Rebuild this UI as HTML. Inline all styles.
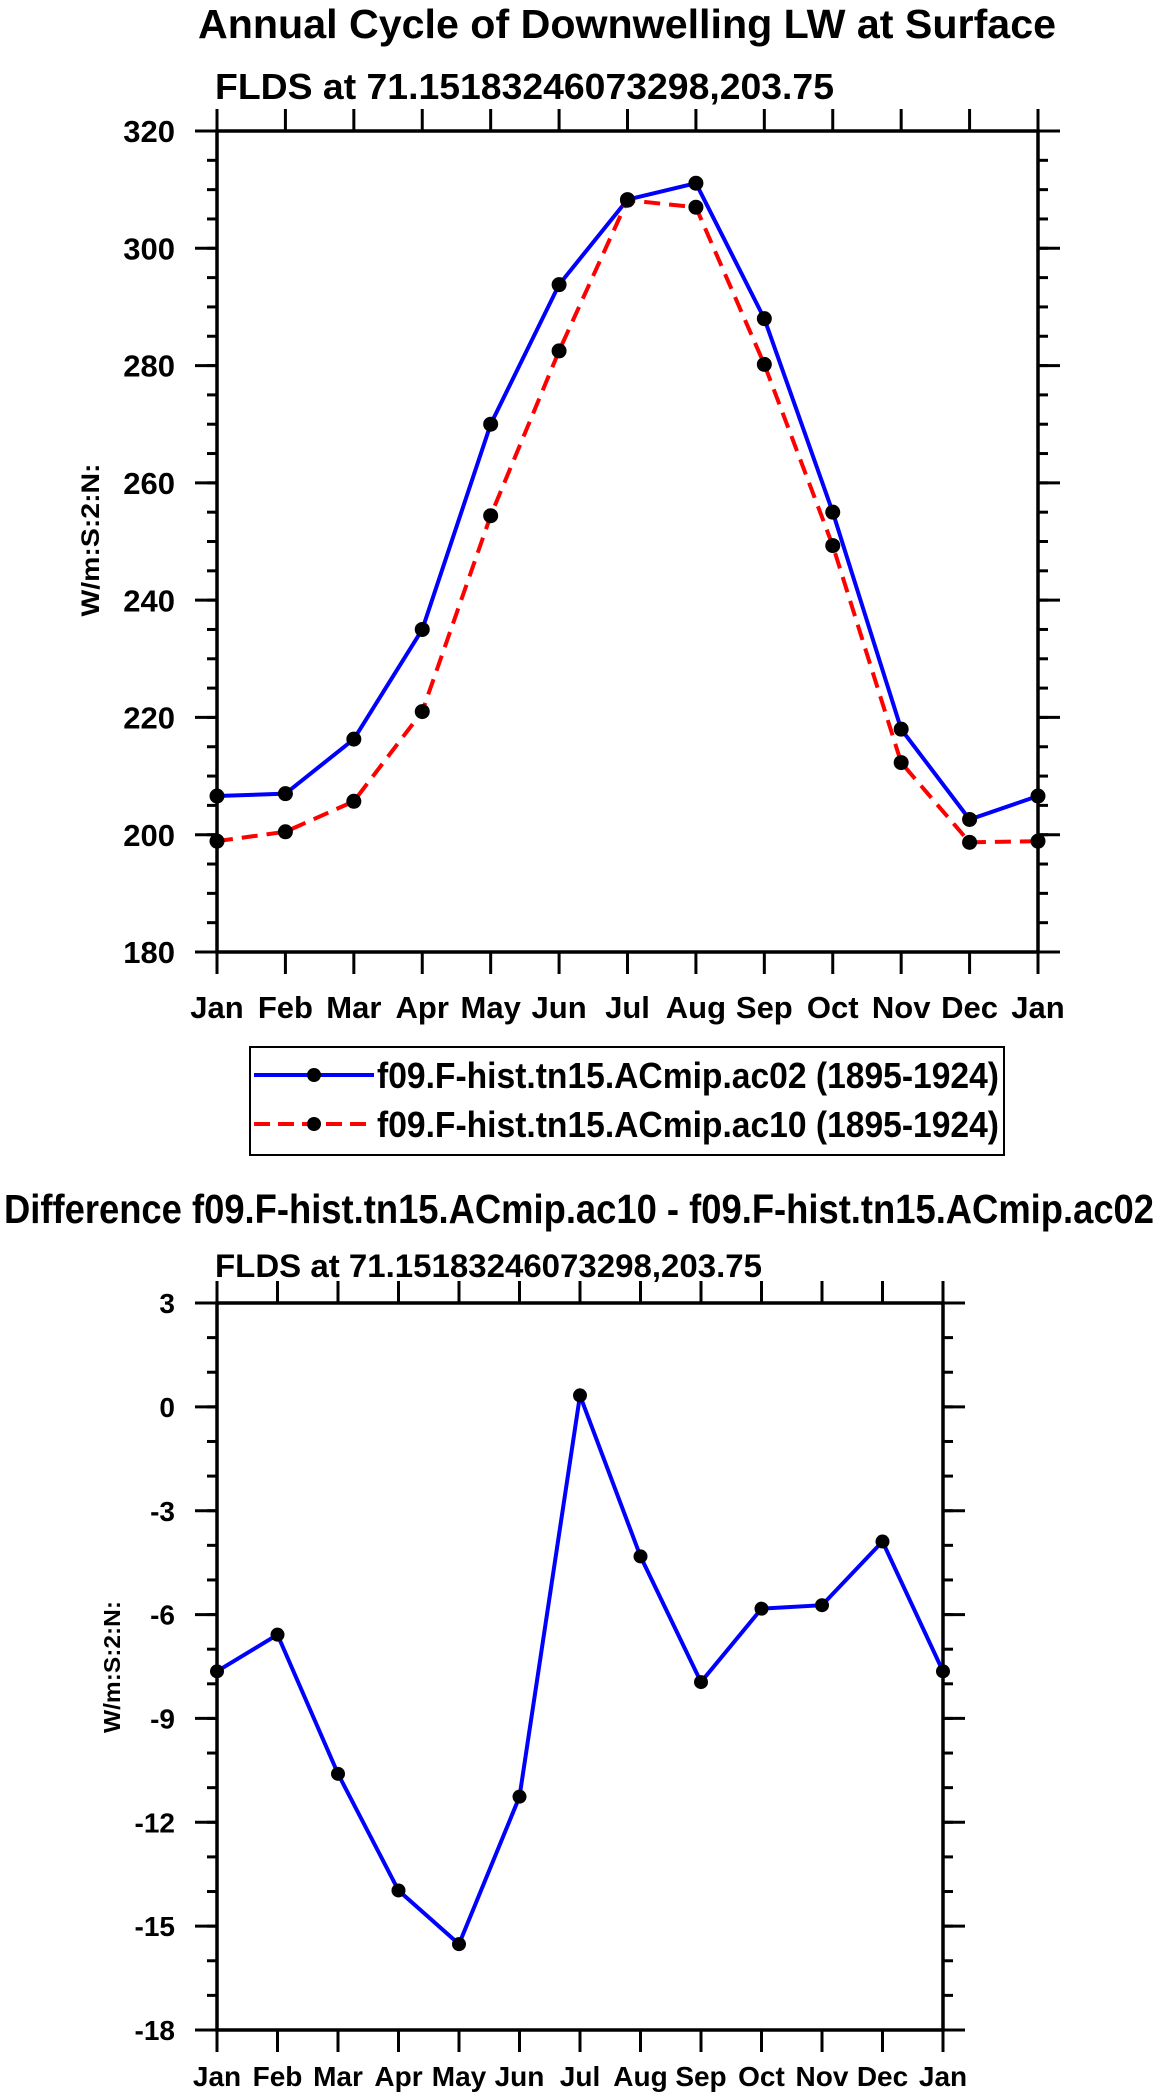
<!DOCTYPE html>
<html><head><meta charset="utf-8"><style>
html,body{margin:0;padding:0;background:#fff;}
svg{display:block;font-family:"Liberation Sans",Arial,sans-serif;font-weight:bold;}
</style></head><body>
<svg id="fig" width="1161" height="2096" viewBox="0 0 1161 2096" xmlns="http://www.w3.org/2000/svg">
<text x="627" y="38" text-anchor="middle" font-size="41" textLength="858" lengthAdjust="spacingAndGlyphs">Annual Cycle of Downwelling LW at Surface</text>
<text x="215" y="99" font-size="36" textLength="619" lengthAdjust="spacingAndGlyphs">FLDS at 71.15183246073298,203.75</text>
<text transform="translate(99,540) rotate(-90)" text-anchor="middle" font-size="25" textLength="153" lengthAdjust="spacingAndGlyphs">W/m:S:2:N:</text>
<g id="top"></g>
<g>
<rect x="250" y="1047" width="754" height="108" fill="#fff" stroke="#000" stroke-width="2"/>
<g>
<line x1="254" y1="1075" x2="374" y2="1075" stroke="#0000ff" stroke-width="4"/>
<circle cx="314" cy="1075" r="7" fill="#000"/>
<text x="377" y="1088" font-size="36" textLength="622" lengthAdjust="spacingAndGlyphs">f09.F-hist.tn15.ACmip.ac02 (1895-1924)</text>
</g>
<g>
<line x1="254" y1="1124" x2="374" y2="1124" stroke="#ff0000" stroke-width="4" stroke-dasharray="16,8"/>
<circle cx="314" cy="1124" r="7" fill="#000"/>
<text x="377" y="1137" font-size="36" textLength="622" lengthAdjust="spacingAndGlyphs">f09.F-hist.tn15.ACmip.ac10 (1895-1924)</text>
</g>
</g>
<text x="579" y="1223" text-anchor="middle" font-size="41" textLength="1150" lengthAdjust="spacingAndGlyphs">Difference f09.F-hist.tn15.ACmip.ac10 - f09.F-hist.tn15.ACmip.ac02</text>
<text x="215" y="1277" font-size="32" textLength="547" lengthAdjust="spacingAndGlyphs">FLDS at 71.15183246073298,203.75</text>
<text transform="translate(120,1667) rotate(-90)" text-anchor="middle" font-size="23" textLength="132" lengthAdjust="spacingAndGlyphs">W/m:S:2:N:</text>
<g id="bot"></g>
</svg>
<script>
const months = ["Jan","Feb","Mar","Apr","May","Jun","Jul","Aug","Sep","Oct","Nov","Dec","Jan"];
const ac02 = [206.6,207.0,216.3,235.0,270.0,293.8,308.3,311.1,288.0,255.0,218.0,202.6,206.6];
const ac10 = [198.9,200.5,205.7,221.0,254.4,282.5,308.2,307.0,280.2,249.3,212.3,198.7,198.9];
const diffVals = [-7.64,-6.58,-10.6,-13.97,-15.52,-11.26,0.33,-4.32,-7.95,-5.83,-5.73,-3.89,-7.64];
const topTicks = [180,200,220,240,260,280,300,320];
const botTicks = [-18,-15,-12,-9,-6,-3,0,3];

const NS="http://www.w3.org/2000/svg";
function mk(parent,tag,attrs){const e=document.createElementNS(NS,tag);for(const k in attrs)e.setAttribute(k,attrs[k]);parent.appendChild(e);return e;}

function chart(g,o){
  const X=i=>o.x0+(o.x1-o.x0)*i/(months.length-1);
  const Y=v=>o.y1-(o.y1-o.y0)*(v-o.min)/(o.max-o.min);
  const tk={stroke:"#000","stroke-width":3};
  for(let v=o.min;v<=o.max+1e-9;v+=o.minor){
    const y=Y(v);
    const t1=mk(g,"line",Object.assign({x1:o.x0-10,x2:o.x0,y1:y,y2:y},tk));
    
    
    mk(g,"line",Object.assign({x1:o.x1,x2:o.x1+10,y1:y,y2:y},tk));
  }
  o.ticks.forEach(v=>{
    const y=Y(v);
    const t=mk(g,"line",Object.assign({x1:o.x0-22,x2:o.x0,y1:y,y2:y},tk));
    
    
    mk(g,"line",Object.assign({x1:o.x1,x2:o.x1+22,y1:y,y2:y},tk));
    const l=mk(g,"text",{x:o.x0-42,y:y+o.fs*0.36,"text-anchor":"end","font-size":o.fs});
    l.textContent=v;
    
    
  });
  months.forEach((m,i)=>{
    const x=X(i);
    const t=mk(g,"line",Object.assign({x1:x,x2:x,y1:o.y1,y2:o.y1+22},tk));
    
    
    mk(g,"line",Object.assign({x1:x,x2:x,y1:o.y0-22,y2:o.y0},tk));
    const l=mk(g,"text",{x:x,y:o.lab,"text-anchor":"middle","font-size":o.fs});
    l.textContent=m;
    
    
  });
  const box=mk(g,"rect",{x:o.x0,y:o.y0,width:o.x1-o.x0,height:o.y1-o.y0,fill:"none",stroke:"#000","stroke-width":3.5});
  
  
  o.series.forEach(s=>{
    const p=mk(g,"polyline",{points:s.vals.map((v,i)=>X(i)+","+Y(v)).join(" "),fill:"none",stroke:s.color,"stroke-width":4,"stroke-dasharray":s.dash||"none"});
    
    
  });
  o.series.forEach(s=>{
    s.vals.forEach((v,i)=>{
      const c=mk(g,"circle",{cx:X(i),cy:Y(v),r:o.r,fill:"#000"});
      
      
    });
  });
}
chart(document.getElementById("top"),{x0:217,x1:1038,y0:131,y1:952,min:180,max:320,minor:5,ticks:topTicks,fs:31,lab:1018,r:7.5,
  series:[{vals:ac02,color:"#0000ff",name:"ac02"},{vals:ac10,color:"#ff0000",dash:"16,9",name:"ac10"}]});
chart(document.getElementById("bot"),{x0:217,x1:943,y0:1303,y1:2030,min:-18,max:3,minor:1,ticks:botTicks,fs:28,lab:2086,r:7,
  series:[{vals:diffVals,color:"#0000ff",name:"difference"}]});
</script>
</body></html>
